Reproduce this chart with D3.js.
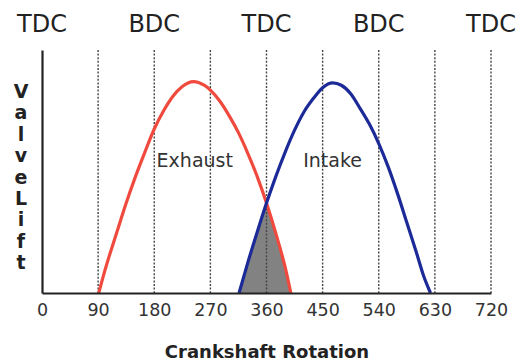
<!DOCTYPE html>
<html>
<head>
<meta charset="utf-8">
<script src="https://cdn.jsdelivr.net/npm/d3@7"></script>
<style>
  html, body { margin: 0; padding: 0; background: #fff; }
  svg { display: block; }
</style>
</head>
<body>
<svg id="chart" width="523" height="362"></svg>
<script>
// ---- data ----
const angleTicks = [0, 90, 180, 270, 360, 450, 540, 630, 720];
const strokeAngles = [0, 180, 360, 540, 720];
const strokeLabels = ["TDC", "BDC", "TDC", "BDC", "TDC"];

const exhaustAngle = [91, 100, 110, 120, 135, 150, 165, 180, 195, 210, 225, 243, 260, 270, 285, 300, 315, 330, 345, 360, 375, 390, 399];
const exhaustLift  = [0, 0.85, 1.7, 2.5, 3.7, 4.8, 5.8, 6.75, 7.5, 8.1, 8.5, 8.7, 8.55, 8.35, 7.9, 7.3, 6.6, 5.75, 4.8, 3.7, 2.45, 1.05, 0];

const intakeAngle = [316, 330, 345, 360, 375, 390, 405, 420, 435, 450, 466, 480, 495, 510, 525, 540, 555, 570, 585, 600, 612, 623];
const intakeLift  = [0, 1.25, 2.5, 3.7, 4.8, 5.8, 6.7, 7.45, 8.0, 8.45, 8.65, 8.55, 8.2, 7.6, 6.95, 6.15, 5.2, 4.1, 2.9, 1.7, 0.7, 0];

const seriesNames = ["Exhaust", "Intake"];
const seriesLabelAngle = [245, 466];
const seriesLabelLift = [5.2, 5.2];
const xTitle = "Crankshaft Rotation";
const yTitle = "Valve Lift";

// ---- drawing ----
const svg = d3.select("#chart");
const x = d3.scaleLinear().domain([0, 720]).range([42, 491]);
const y = d3.scaleLinear().domain([0, 10]).range([293, 50]);

const exhaust = exhaustAngle.map((a, i) => ({a, v: exhaustLift[i]}));
const intake = intakeAngle.map((a, i) => ({a, v: intakeLift[i]}));

const curve = d3.curveMonotoneX;
const line = d3.line().x(d => x(d.a)).y(d => y(d.v)).curve(curve);
const area = d3.area().x(d => x(d.a)).y0(y(0)).y1(d => y(d.v)).curve(curve);

// overlap shading: exhaust area clipped by intake area
svg.append("clipPath").attr("id", "intakeClip")
  .append("path").attr("d", area(intake));
svg.append("path")
  .attr("d", area(exhaust))
  .attr("clip-path", "url(#intakeClip)")
  .attr("fill", "#828282");

// dotted verticals
svg.append("g").selectAll("line")
  .data(angleTicks.filter(d => d > 0))
  .join("line")
  .attr("x1", d => x(d)).attr("x2", d => x(d))
  .attr("y1", y(10)).attr("y2", y(0))
  .attr("stroke", "#444")
  .attr("stroke-width", 1.4)
  .attr("stroke-dasharray", "2,1.6");

// curves
svg.append("path").attr("d", line(exhaust))
  .attr("fill", "none").attr("stroke", "#f04a3e").attr("stroke-width", 3.2);
svg.append("path").attr("d", line(intake))
  .attr("fill", "none").attr("stroke", "#1c2a98").attr("stroke-width", 3.2);

// axes
const xAxis = d3.axisBottom(x).tickValues(angleTicks).tickSize(0).tickPadding(11).tickFormat(d3.format("d"));
const gx = svg.append("g").attr("transform", `translate(0,${y(0)})`).call(xAxis);
gx.select(".domain").attr("stroke", "#222").attr("stroke-width", 2.2);
gx.selectAll("text")
  .attr("font-family", "DejaVu Sans, sans-serif")
  .attr("font-size", 17.5)
  .attr("fill", "#333");

const yAxis = d3.axisLeft(y).tickValues([]).tickSize(0);
const gy = svg.append("g").attr("transform", `translate(${x(0)},0)`).call(yAxis);
gy.select(".domain").attr("stroke", "#222").attr("stroke-width", 2.2);

// top stroke labels
svg.append("g").selectAll("text")
  .data(strokeAngles)
  .join("text")
  .attr("x", d => x(d)).attr("y", 32)
  .attr("text-anchor", "middle")
  .attr("font-family", "DejaVu Sans, sans-serif")
  .attr("font-size", 24)
  .attr("fill", "#222")
  .text((d, i) => strokeLabels[i]);

// series labels
svg.append("g").selectAll("text")
  .data(seriesNames)
  .join("text")
  .attr("x", (d, i) => x(seriesLabelAngle[i]))
  .attr("y", (d, i) => y(seriesLabelLift[i]))
  .attr("text-anchor", "middle")
  .attr("font-family", "DejaVu Sans, sans-serif")
  .attr("font-size", 19)
  .attr("fill", "#333")
  .text(d => d);

// x title
svg.append("text")
  .attr("x", 267).attr("y", 358)
  .attr("text-anchor", "middle")
  .attr("font-family", "DejaVu Sans, sans-serif")
  .attr("font-weight", "bold")
  .attr("font-size", 18)
  .attr("fill", "#222")
  .text(xTitle);

// y title, stacked letters
const letters = yTitle.replace(/ /g, "").split("");
svg.append("g").selectAll("text")
  .data(letters)
  .join("text")
  .attr("x", 21)
  .attr("y", (d, i) => 98 + i * 21.4)
  .attr("text-anchor", "middle")
  .attr("font-family", "DejaVu Sans, sans-serif")
  .attr("font-weight", "bold")
  .attr("font-size", 19)
  .attr("fill", "#222")
  .text(d => d);
</script>
</body>
</html>
